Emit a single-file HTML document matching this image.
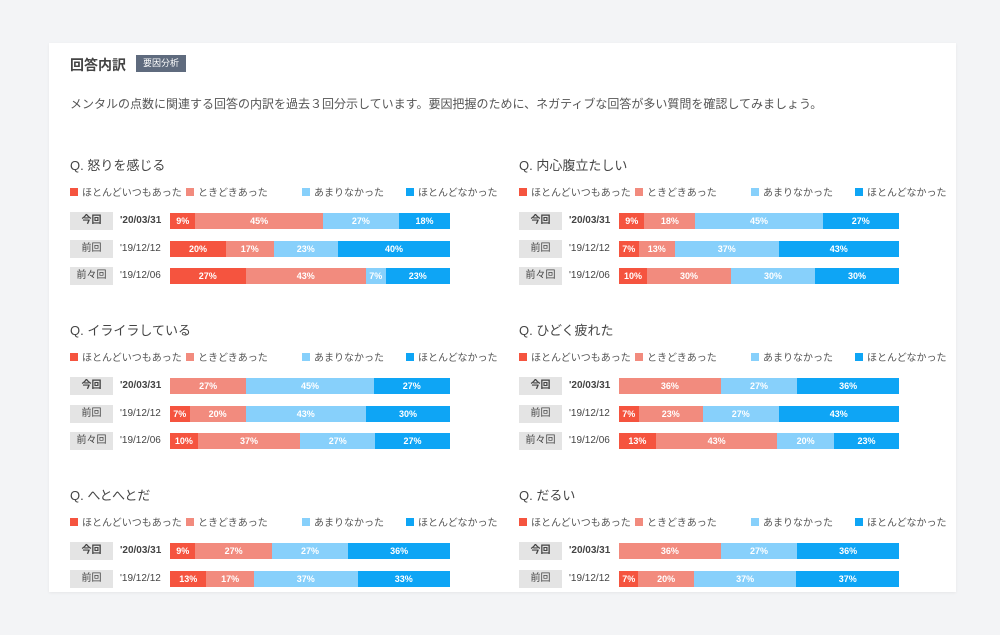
<!DOCTYPE html>
<html><head><meta charset="utf-8">
<style>
body{margin:0;width:1000px;height:628px;background:#f3f4f6;font-family:"Liberation Sans","Noto Sans CJK JP",sans-serif;position:relative;overflow:hidden;color:#333}
.card{position:absolute;left:49px;top:43px;width:907px;height:549px;background:#fff;box-shadow:0 1px 3px rgba(0,0,0,.06)}
.abs{position:absolute;white-space:nowrap}
</style></head><body>
<div class="card"></div>
<div class="abs" style="left:70px;top:55px;font-size:14px;font-weight:bold;color:#444">回答内訳</div>
<div class="abs" style="left:136px;top:55px;height:17px;line-height:17px;padding:0 7px;background:#5f6b7e;color:#fff;font-size:9px">要因分析</div>
<div class="abs" style="left:70px;top:95px;font-size:12px;color:#555">メンタルの点数に関連する回答の内訳を過去３回分示しています。要因把握のために、ネガティブな回答が多い質問を確認してみましょう。</div>
<div id="root"></div>
<script>
const categories=["ほとんどいつもあった","ときどきあった","あまりなかった","ほとんどなかった"];
const colors=["#f5543f","#f28b7e","#87d0fb","#0ea5f5"];
const questions=["怒りを感じる","内心腹立たしい","イライラしている","ひどく疲れた","へとへとだ","だるい"];
const rowLabels=["今回","前回","前々回"];
const dates=["'20/03/31","'19/12/12","'19/12/06"];
const q1=[[9,45,27,18],[20,17,23,40],[27,43,7,23]];
const q2=[[9,18,45,27],[7,13,37,43],[10,30,30,30]];
const q3=[[0,27,45,27],[7,20,43,30],[10,37,27,27]];
const q4=[[0,36,27,36],[7,23,27,43],[13,43,20,23]];
const q5=[[9,27,27,36],[13,17,37,33]];
const q6=[[0,36,27,36],[7,20,37,37]];
const values=[q1,q2,q3,q4,q5,q6];
const root=document.getElementById('root');
function mk(parent,css,txt){const d=document.createElement('div');d.className='abs';d.style.cssText=css;if(txt!==undefined)d.textContent=txt;parent.appendChild(d);return d;}
const barW=280;
questions.forEach((q,qi)=>{
  const ox=70+(qi%2)*449, oy=155+Math.floor(qi/2)*165;
  const g=mk(root,`left:${ox}px;top:${oy}px;width:430px;height:150px`);
  
  
  const t=mk(g,'left:0;top:0;font-size:13px;color:#444','Q. '+q);
  
  
  let lx=0;
  const lw=[116,116,104,0];
  categories.forEach((c,ci)=>{
    const e=mk(g,`left:${lx}px;top:33px;font-size:10px;color:#555;line-height:12px`);
    
    
    const s=mk(e,`position:relative;display:inline-block;width:8px;height:8px;background:${colors[ci]};margin-right:4px;vertical-align:-0px`);
    s.className='';
    e.appendChild(document.createTextNode(c));
    lx+=lw[ci];
  });
  values[qi].forEach((row,ri)=>{
    const ry=57+ri*27.5;
    const lb=mk(g,`left:0;top:${ry}px;width:43px;height:18px;line-height:18px;background:#e4e4e4;text-align:center;font-size:10px;color:#444;${ri==0?'font-weight:bold':''}`,rowLabels[ri]);
    
    
    const dt=mk(g,`left:50px;top:${ry}px;line-height:18px;font-size:10px;color:#444;${ri==0?'font-weight:bold':''}`,dates[ri]);
    
    
    const sum=row.reduce((a,b)=>a+b,0);
    let x=100;
    row.forEach((v,ci)=>{
      if(v<=0)return;
      const w=v/sum*barW;
      const b=mk(g,`left:${x}px;top:${ry+1}px;width:${w}px;height:16px;line-height:16px;background:${colors[ci]};color:#fff;font-size:9px;text-align:center;font-weight:bold`,v+'%');
      
      
      x+=w;
    });
  });
});
</script>
</body></html>
